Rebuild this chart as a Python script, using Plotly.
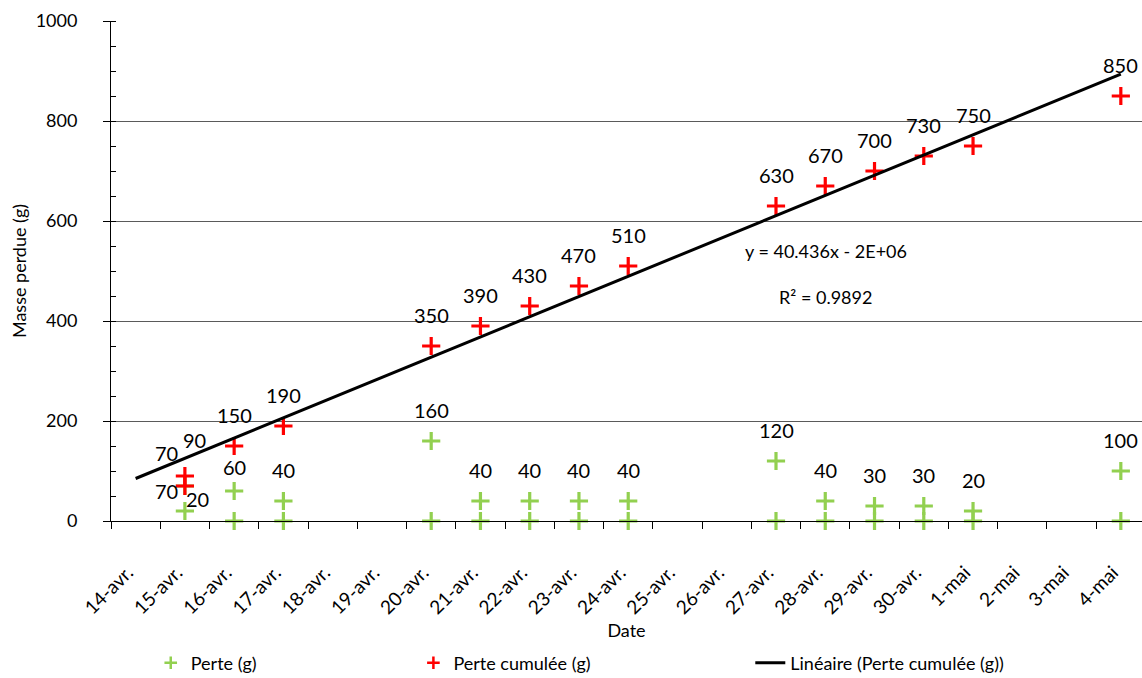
import plotly.graph_objects as go

# ---------------- data ----------------
dates = ["14-avr.", "15-avr.", "16-avr.", "17-avr.", "18-avr.", "19-avr.", "20-avr.",
         "21-avr.", "22-avr.", "23-avr.", "24-avr.", "25-avr.", "26-avr.", "27-avr.",
         "28-avr.", "29-avr.", "30-avr.", "1-mai", "2-mai", "3-mai", "4-mai"]

perte_dates = ["15-avr.", "15-avr.", "16-avr.", "16-avr.", "17-avr.", "17-avr.",
               "20-avr.", "20-avr.", "21-avr.", "21-avr.", "22-avr.", "22-avr.",
               "23-avr.", "23-avr.", "24-avr.", "24-avr.", "27-avr.", "27-avr.",
               "28-avr.", "28-avr.", "29-avr.", "29-avr.", "30-avr.", "30-avr.",
               "1-mai", "1-mai", "4-mai", "4-mai"]
perte_vals = [70, 20, 60, 0, 40, 0,
              160, 0, 40, 0, 40, 0,
              40, 0, 40, 0, 120, 0,
              40, 0, 30, 0, 30, 0,
              20, 0, 100, 0]

cumul_dates = ["15-avr.", "15-avr.", "16-avr.", "17-avr.", "20-avr.", "21-avr.",
               "22-avr.", "23-avr.", "24-avr.", "27-avr.", "28-avr.", "29-avr.",
               "30-avr.", "1-mai", "4-mai"]
cumul_vals = [70, 90, 150, 190, 350, 390, 430, 470, 510, 630, 670, 700, 730, 750, 850]

trend_slope = 40.436      # g per day (from the equation shown)
trend_start = 85          # trend value on 14-avr.
equation_text = "y = 40.436x - 2E+06"
r2_text = "R² = 0.9892"

# ---------------- styles ----------------
GREEN = "#92D050"
RED = "#FF0000"
FONT = "Lato"
TXT = "#000000"
FS = 18
FS_LAB = 20

# label offsets (px) for the crowded 15-avr. labels
red_label_shift = {0: (-18, 33), 1: (10, 36)}
green_label_shift = {0: (-18, -5), 1: (13, 12), 2: (0, 24)}

fig = go.Figure()

fig.add_trace(go.Scatter(
    x=perte_dates, y=perte_vals, mode="markers", showlegend=False, cliponaxis=False,
    marker=dict(symbol="cross-thin", size=13, color=GREEN,
                line=dict(color=GREEN, width=3.2)),
))
fig.add_trace(go.Scatter(
    x=cumul_dates, y=cumul_vals, mode="markers", showlegend=False, cliponaxis=False,
    marker=dict(symbol="cross-thin", size=13, color=RED,
                line=dict(color=RED, width=3.2)),
))
trend_y = [trend_start + trend_slope * i for i in range(len(dates))]
fig.add_trace(go.Scatter(
    x=dates, y=trend_y, mode="lines", showlegend=False,
    line=dict(color="black", width=3),
))

# legend-only traces
fig.add_trace(go.Scatter(
    x=[None], y=[None], mode="markers", name="Perte (g)", legend="legend",
    marker=dict(symbol="cross-thin", size=9, color=GREEN, line=dict(color=GREEN, width=2.5)),
))
fig.add_trace(go.Scatter(
    x=[None], y=[None], mode="markers", name="Perte cumulée (g)", legend="legend2",
    marker=dict(symbol="cross-thin", size=9, color=RED, line=dict(color=RED, width=2.5)),
))
fig.add_trace(go.Scatter(
    x=[None], y=[None], mode="lines", name="Linéaire (Perte cumulée (g))", legend="legend3",
    line=dict(color="black", width=3),
))

annotations = []
for i, (d, v) in enumerate(zip(cumul_dates, cumul_vals)):
    xs, ys = red_label_shift.get(i, (0, 31))
    annotations.append(dict(x=d, y=v, text=str(v), showarrow=False,
                            xshift=xs, yshift=ys, font=dict(family=FONT, size=FS_LAB, color=TXT)))
for i, (d, v) in enumerate(zip(perte_dates, perte_vals)):
    if v == 0:
        continue
    xs, ys = green_label_shift.get(i, (0, 31))
    annotations.append(dict(x=d, y=v, text=str(v), showarrow=False,
                            xshift=xs, yshift=ys, font=dict(family=FONT, size=FS_LAB, color=TXT)))

annotations.append(dict(xref="paper", yref="y", x=0.6935, y=540, text=equation_text,
                        xanchor="center", yanchor="middle",
                        showarrow=False, font=dict(family=FONT, size=FS, color=TXT)))
annotations.append(dict(xref="paper", yref="y", x=0.6935, y=448, text=r2_text,
                        xanchor="center", yanchor="middle",
                        showarrow=False, font=dict(family=FONT, size=FS, color=TXT)))

legend_common = dict(orientation="h", xref="container", yref="container",
                     xanchor="left", yanchor="middle", y=0.022,
                     font=dict(family=FONT, size=FS, color=TXT),
                     bgcolor="rgba(0,0,0,0)")

fig.update_layout(
    width=1142, height=678,
    margin=dict(l=111, r=0, t=21, b=157, autoexpand=False),
    paper_bgcolor="white", plot_bgcolor="white",
    font=dict(family=FONT, size=FS, color=TXT),
    annotations=annotations,
    legend=dict(x=0.132, **legend_common),
    legend2=dict(x=0.362, **legend_common),
    legend3=dict(x=0.657, **legend_common),
    xaxis=dict(
        type="category", categoryorder="array", categoryarray=dates,
        range=[-0.5, 20.43], tickson="boundaries", ticks="outside", ticklen=7,
        tickcolor="black", showline=True, linecolor="black", linewidth=1,
        showgrid=False, zeroline=False, tickangle=-45,
        ticklabelstandoff=32, ticklabelshift=-8,
        tickfont=dict(family=FONT, size=19, color=TXT),
        title=dict(text="Date", font=dict(family=FONT, size=FS, color=TXT), standoff=6),
    ),
    yaxis=dict(
        range=[0, 1000], dtick=200, ticks="outside", ticklen=7, tickcolor="black",
        showline=True, linecolor="black", linewidth=1,
        showgrid=True, gridcolor="#5a5a5a", gridwidth=1, zeroline=False,
        ticklabelstandoff=22,
        minor=dict(dtick=50, ticks="inside", ticklen=5, tickcolor="black", showgrid=False),
        tickfont=dict(family=FONT, size=FS, color=TXT),
        title=dict(text="Masse perdue (g)", font=dict(family=FONT, size=FS, color=TXT), standoff=4),
    ),
)

fig.write_html("out.html", config={"displayModeBar": False},
               post_script="document.body.style.margin='0';")
